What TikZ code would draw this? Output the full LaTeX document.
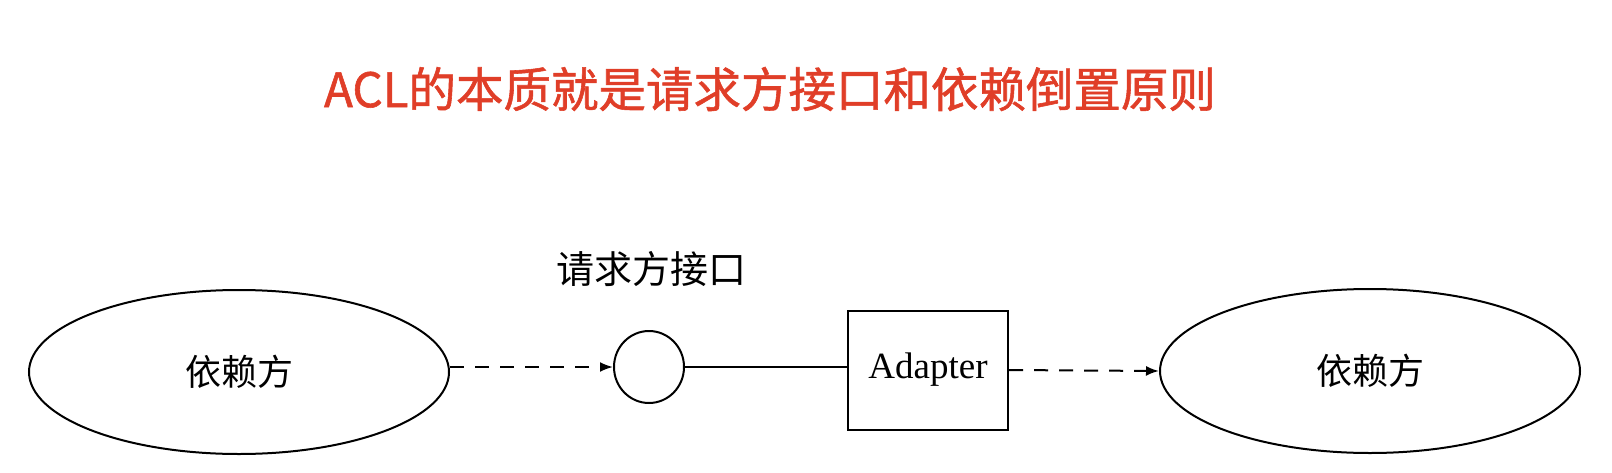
\documentclass[tikz,border=0pt]{standalone}
\usepackage{fontspec}
\setmainfont{Liberation Serif}
\newfontfamily\cjk{Noto Sans CJK SC}
\newfontfamily\cjktitle[FakeBold=1.2]{Noto Sans CJK SC}
\usetikzlibrary{shapes.geometric,arrows.meta}
\definecolor{titlered}{RGB}{224,62,40}
\begin{document}
\begin{tikzpicture}[x=1pt,y=-1pt,
  party/.style={draw, ellipse, line width=2pt, minimum width=420pt, minimum height=164pt, inner sep=0pt,
    font=\cjk\fontsize{36}{42}\selectfont},
  iface/.style={draw, ellipse, line width=2pt, minimum width=70pt, minimum height=72pt, inner sep=0pt},
  adapterbox/.style={draw, rectangle, line width=2pt, minimum width=160pt, minimum height=119pt, inner sep=0pt,
    font=\fontsize{37}{42}\selectfont},
  dashedarrow/.style={line width=2pt, dash pattern=on 14pt off 11pt, -{Latex[length=13pt,width=10pt]}},
  solidline/.style={line width=2pt},
  titletext/.style={text=titlered, font=\cjktitle\fontsize{47.5}{54}\selectfont},
  labeltext/.style={font=\cjk\fontsize{38}{44}\selectfont}
]
\useasboundingbox (0,0) rectangle (1612,472);
\node[titletext] (title) at (770,89) {ACL的本质就是请求方接口和依赖倒置原则};
\node[party] (L) at (239,372) {依赖方};
\node[iface] (I) at (649,367) {};
\node[labeltext] (IL) at (651,269) {请求方接口};
\node[adapterbox] (B) at (928,370) {Adapter};
\node[party] (R) at (1370,371) {依赖方};
\draw[dashedarrow] (L.east |- I.west) -- (I.west);
\draw[solidline] (I.east) -- (I.east -| B.west);
\draw[dashedarrow] (B.east) -- (R.west);
\end{tikzpicture}
\end{document}
